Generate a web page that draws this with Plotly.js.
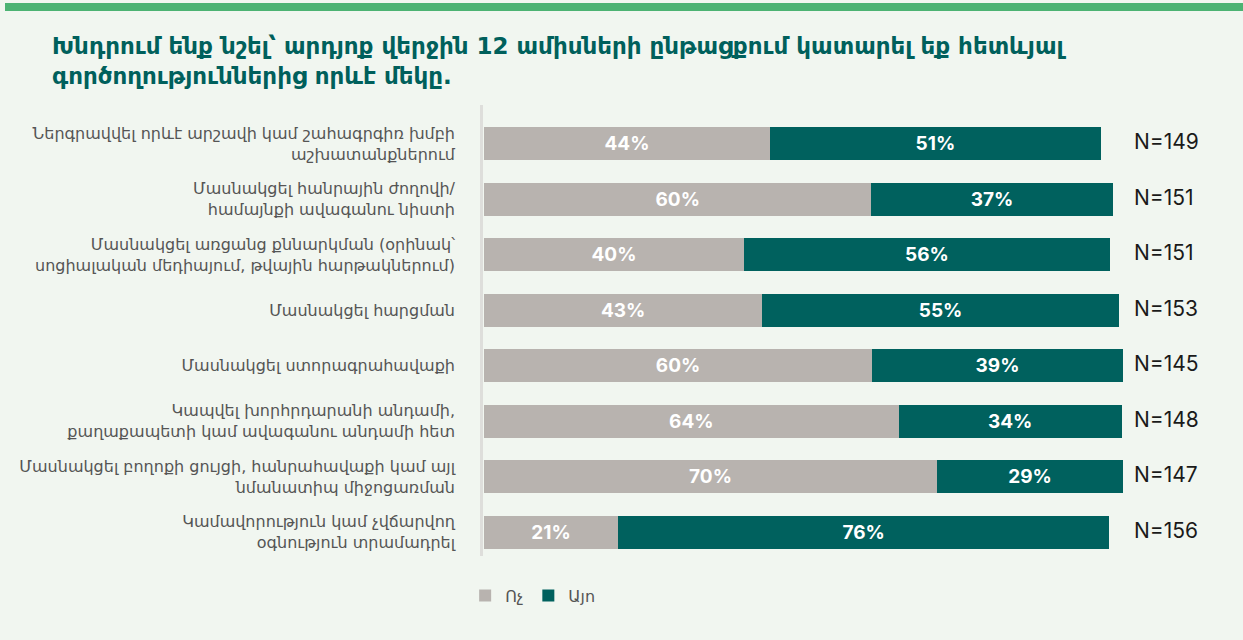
<!DOCTYPE html>
<html>
<head>
<meta charset="utf-8">
<script src="https://cdn.plot.ly/plotly-3.0.1.min.js"></script>
<style>
  html, body { margin: 0; padding: 0; background: #F1F6F0; }
  #chart { width: 1243px; height: 640px; }
</style>
</head>
<body>
<div id="chart"></div>
<script>
const categories = [
  "Ներգրավվել որևէ արշավի կամ շահագրգիռ խմբի<br>աշխատանքներում",
  "Մասնակցել հանրային ժողովի/<br>համայնքի ավագանու նիստի",
  "Մասնակցել առցանց քննարկման (օրինակ՝<br>սոցիալական մեդիայում, թվային հարթակներում)",
  "Մասնակցել հարցման",
  "Մասնակցել ստորագրահավաքի",
  "Կապվել խորհրդարանի անդամի,<br>քաղաքապետի կամ ավագանու անդամի հետ",
  "Մասնակցել բողոքի ցույցի, հանրահավաքի կամ այլ<br>նմանատիպ միջոցառման",
  "Կամավորություն կամ չվճարվող<br>օգնություն տրամադրել"
];
const noValues = [44.0, 59.6, 40.0, 42.8, 59.7, 63.8, 69.7, 20.6];
const yesValues = [50.9, 37.1, 56.3, 54.9, 38.6, 34.3, 28.6, 75.6];
const nLabels = ["N=149", "N=151", "N=151", "N=153", "N=145", "N=148", "N=147", "N=156"];
const seriesNames = ["Ոչ", "Այո"];
const titleText = "Խնդրում ենք նշել՝ արդյոք վերջին 12 ամիսների ընթացքում կատարել եք հետևյալ<br>գործողություններից որևէ մեկը.";

const W = 1243, H = 640;
const L = 484, R = 109, T = 116, B = 80;
const plotH = H - T - B;

const barFont = { family: "Inter, 'Noto Sans', sans-serif", size: 19, color: "#FFFFFF", weight: 700 };

const traces = [
  {
    type: "bar", orientation: "h", name: seriesNames[0],
    y: categories, x: noValues,
    marker: { color: "#B8B3AF" },
    texttemplate: "%{x:.0f}%", textposition: "inside", insidetextanchor: "middle",
    textfont: barFont, hoverinfo: "skip"
  },
  {
    type: "bar", orientation: "h", name: seriesNames[1],
    y: categories, x: yesValues,
    marker: { color: "#00615E" },
    texttemplate: "%{x:.0f}%", textposition: "inside", insidetextanchor: "middle",
    textfont: barFont, hoverinfo: "skip"
  }
];

const annotations = nLabels.map((t, i) => ({
  x: 100, y: categories[i], xref: "x", yref: "y",
  text: t, showarrow: false, xanchor: "left", yanchor: "middle", xshift: -2, yshift: 2,
  font: { family: "Inter, 'Noto Sans', sans-serif", size: 21, color: "#1A1A1A" }
}));

annotations.push({
  xref: "paper", yref: "paper",
  x: (50 - L) / (W - L - R), y: (H - B - 31) / plotH,
  xanchor: "left", yanchor: "top", align: "left", showarrow: false,
  text: titleText,
  font: { family: "'DejaVu Sans', 'Noto Sans', sans-serif", size: 23, color: "#00605C", weight: 700 }
});

const layout = {
  width: W, height: H,
  paper_bgcolor: "#F1F6F0", plot_bgcolor: "#F1F6F0",
  margin: { l: L, r: R, t: T, b: B, autoexpand: false },
  barmode: "stack", bargap: 0.4,
  showlegend: true,
  legend: {
    orientation: "h", x: -0.029, xanchor: "left", y: -0.08, yanchor: "middle",
    font: { family: "'DejaVu Sans', 'Noto Sans', sans-serif", size: 16, color: "#555555" },
    bgcolor: "rgba(0,0,0,0)", traceorder: "normal", itemwidth: 30
  },
  xaxis: {
    range: [0, 100], showgrid: false, zeroline: false, showticklabels: false,
    showline: false, fixedrange: true
  },
  yaxis: {
    autorange: "reversed", showgrid: false, zeroline: false, showline: false,
    ticks: "", ticklabelstandoff: 28,
    tickfont: { family: "'DejaVu Sans', 'Noto Sans', sans-serif", size: 16, color: "#555555" },
    automargin: false, fixedrange: true
  },
  shapes: [
    {
      type: "rect", xref: "paper", yref: "paper",
      x0: -479 / 650, x1: (W - L) / 650,
      y0: (H - B - 3) / plotH, y1: (H - B - 11) / plotH,
      fillcolor: "#4CB373", line: { width: 0 }, layer: "below"
    },
    {
      type: "line", xref: "paper", yref: "paper",
      x0: -2.5 / 650, x1: -2.5 / 650,
      y0: (H - B - 556) / plotH, y1: (H - B - 105) / plotH,
      line: { color: "#DEDEDB", width: 3 }
    }
  ],
  annotations: annotations
};

Plotly.newPlot("chart", traces, layout, { displayModeBar: false, staticPlot: true });
</script>
</body>
</html>
